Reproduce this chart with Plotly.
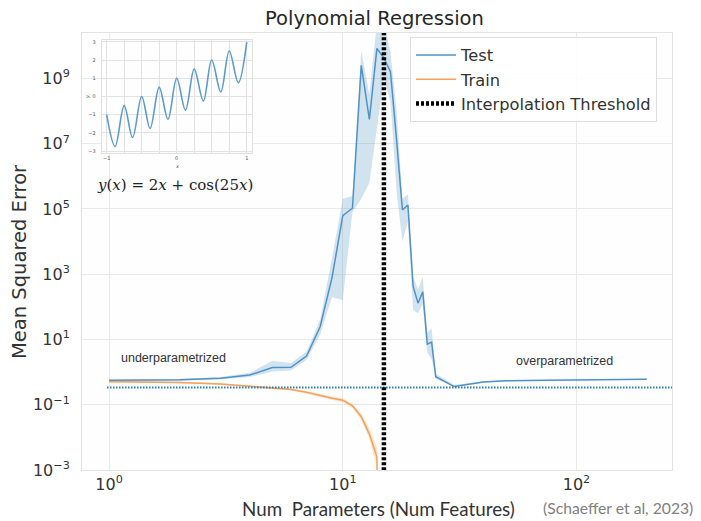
import plotly.graph_objects as go

# ---------------- data ----------------
x_test = [1, 2, 3, 4, 5, 6, 7, 8, 9, 10, 11, 12, 13, 14, 15, 16, 17, 18, 19, 20,
          21, 22, 23, 24, 25, 30, 40, 50, 75, 100, 150, 200]
test_mse = [0.56, 0.58, 0.65, 0.81, 1.38, 1.40, 3.1, 24.5, 8.0e2, 6.2e4, 1.05e5, 2.5e9,
            5.5e7, 8.3e9, 4.2e9, 1.6e9, 1.26e7, 9.3e4, 1.32e5, 4.2e2, 1.3e2, 2.9e2,
            7.2, 8.3, 0.72, 0.36, 0.50, 0.54, 0.56, 0.575, 0.59, 0.60]
test_lo = [0.50, 0.53, 0.60, 0.71, 1.05, 1.12, 2.4, 14.0, 2.0e2, 1.6e2, 8.0e4, 2.0e5,
           6.3e5, 3.0e7, 1.0e9, 2.0e8, 3.2e5, 1.0e4, 4.0e4, 80.0, 63.0, 1.2e2,
           4.0, 2.5, 0.63, 0.35, 0.48, 0.52, 0.545, 0.56, 0.575, 0.585]
test_hi = [0.58, 0.61, 0.71, 0.95, 2.24, 1.9, 4.2, 40.0, 3.2e3, 2.0e5, 2.5e5, 7.0e9,
           3.2e8, 5.0e10, 5.0e10, 6.3e9, 1.0e8, 2.0e5, 2.8e5, 8.0e2, 3.5e2, 8.0e2,
           16.0, 22.0, 0.89, 0.40, 0.52, 0.56, 0.58, 0.59, 0.605, 0.62]

x_train = [1, 2, 3, 4, 5, 6, 7, 8, 9, 10, 11, 12, 13, 14, 15]
train_mse = [0.51, 0.48, 0.43, 0.37, 0.32, 0.295, 0.24, 0.19, 0.158, 0.138, 0.093,
             0.043, 0.0126, 0.0025, 1e-20]
train_lo = [0.48, 0.455, 0.405, 0.35, 0.30, 0.275, 0.22, 0.17, 0.14, 0.12, 0.08,
            0.034, 0.009, 0.0012, 1e-21]
train_hi = [0.54, 0.505, 0.455, 0.39, 0.34, 0.315, 0.26, 0.21, 0.178, 0.158, 0.108,
            0.054, 0.018, 0.005, 1e-19]

threshold_x = 15
baseline_mse = 0.335

# inset: y(x) = 2x + cos(25x), extrema
inset_x = [-1.0, -0.88, -0.75, -0.63, -0.50, -0.38, -0.25, -0.125, 0.0, 0.125,
           0.25, 0.38, 0.50, 0.63, 0.75, 0.88, 1.0]
inset_y = [-1.0, -2.75, -0.5, -2.25, 0.0, -1.75, 0.5, -1.25, 1.0, -0.75,
           1.5, -0.25, 2.0, 0.25, 2.5, 0.75, 2.98]

y_tick_vals = [1e-3, 1e-1, 1e1, 1e3, 1e5, 1e7, 1e9]
y_tick_text = ["10<sup>−3</sup>", "10<sup>−1</sup>", "10<sup>1</sup>", "10<sup>3</sup>",
               "10<sup>5</sup>", "10<sup>7</sup>", "10<sup>9</sup>"]
x_tick_vals = [1, 10, 100]
x_tick_text = ["10<sup>0</sup>", "10<sup>1</sup>", "10<sup>2</sup>"]

inset_xtick_vals = [-1, 0, 1]
inset_xtick_text = ["−1", "0", "1"]
inset_xminor_vals = [-0.75, -0.5, -0.25, 0.25, 0.5, 0.75]
inset_ytick_vals = [-3, -2, -1, 0, 1, 2, 3]
inset_ytick_text = ["−3", "−2", "−1", "0", "1", "2", "3"]

# ---------------- layout helpers (page pixel -> paper) ----------------
OFF = 8                      # browser body margin
W, H = 701 - OFF, 521 - OFF
L, R, T, B = 82 - OFF, 29, 33 - OFF, 51
PW, PH = W - L - R, H - T - B


def px(X):
    return (X - OFF - L) / PW


def py(Y):
    return (H - B - (Y - OFF)) / PH


BLUE = "#5092c8"
ORANGE = "#f7a05c"
TXT = "#333333"

fig = go.Figure()

# Test band + line
fig.add_trace(go.Scatter(
    x=x_test + x_test[::-1], y=test_hi + test_lo[::-1], fill="toself",
    fillcolor="rgba(31,119,180,0.2)", line=dict(width=0), hoverinfo="skip",
    showlegend=False))
fig.add_trace(go.Scatter(
    x=x_test, y=test_mse, mode="lines", name="Test",
    line=dict(color=BLUE, width=1.5)))

# Train band + line
fig.add_trace(go.Scatter(
    x=x_train + x_train[::-1], y=train_hi + train_lo[::-1], fill="toself",
    fillcolor="rgba(255,127,14,0.2)", line=dict(width=0), hoverinfo="skip",
    showlegend=False))
fig.add_trace(go.Scatter(
    x=x_train, y=train_mse, mode="lines", name="Train",
    line=dict(color=ORANGE, width=1.5)))

# baseline dotted line
fig.add_trace(go.Scatter(
    x=[0.98, 1000], y=[baseline_mse, baseline_mse], mode="lines",
    line=dict(color="#2b7bb0", width=2, dash="1.5px,1.5px"),
    hoverinfo="skip", showlegend=False))

# interpolation threshold
fig.add_trace(go.Scatter(
    x=[threshold_x, threshold_x], y=[1e-5, 1e12], mode="lines",
    name="Interpolation Threshold",
    line=dict(color="black", width=4.5, dash="3px,2px")))

# inset curve
fig.add_trace(go.Scatter(
    x=inset_x, y=inset_y, mode="lines", xaxis="x2", yaxis="y2",
    line=dict(color="#5a9bd0", width=1.6, shape="spline", smoothing=1.0),
    hoverinfo="skip", showlegend=False))

grid = "#e9e9e9"
fig.update_layout(
    width=W, height=H,
    margin=dict(l=L, r=R, t=T, b=B),
    paper_bgcolor="#ffffff", plot_bgcolor="#fefefe",
    showlegend=True,
    legend=dict(x=px(410), y=py(37), xanchor="left", yanchor="top",
                itemwidth=40,
                bgcolor="rgba(255,255,255,0.85)", bordercolor="#dedede", borderwidth=1,
                font=dict(family="DejaVu Sans", size=16.3, color=TXT)),
    xaxis=dict(type="log", range=[-0.116, 2.409], tickvals=x_tick_vals,
               ticktext=x_tick_text, showgrid=True, gridcolor=grid, gridwidth=1,
               zeroline=False, showline=True, linecolor="#e3e3e3", mirror=True,
               ticks="", tickfont=dict(family="DejaVu Sans", size=16, color=TXT)),
    yaxis=dict(type="log", range=[-3, 10.39], tickvals=y_tick_vals,
               ticktext=y_tick_text, showgrid=True, gridcolor=grid, gridwidth=1,
               zeroline=False, showline=True, linecolor="#e3e3e3", mirror=True,
               ticks="", ticklabelstandoff=8,
               tickfont=dict(family="DejaVu Sans", size=16, color=TXT)),
    xaxis2=dict(domain=[px(101.7), px(251.7)], anchor="y2", range=[-1.071, 1.071],
                tickvals=inset_xtick_vals, ticktext=inset_xtick_text,
                minor=dict(tickvals=inset_xminor_vals, showgrid=True,
                           gridcolor="#e2e2e2", ticks=""),
                showgrid=True, gridcolor="#e2e2e2", zeroline=False,
                showline=True, linecolor="#e0e0e0", mirror=True, ticks="",
                tickfont=dict(family="DejaVu Sans", size=5, color="#555")),
    yaxis2=dict(domain=[py(153), py(40)], anchor="x2", range=[-3.1, 3.1],
                tickvals=inset_ytick_vals, ticktext=inset_ytick_text,
                showgrid=True, gridcolor="#e2e2e2", zeroline=False,
                showline=True, linecolor="#e0e0e0", mirror=True, ticks="",
                ticklabelstandoff=4,
                tickfont=dict(family="DejaVu Sans", size=5, color="#555")),
)

ann = [
    dict(text="Polynomial Regression", x=px(374), y=py(18.5),
         font=dict(family="DejaVu Sans", size=19.5, color="#262626")),
    dict(text="Mean Squared Error", x=px(19), y=py(262), textangle=-90,
         font=dict(family="DejaVu Sans", size=19.5, color=TXT)),
    dict(text="Num\u00a0\u00a0Parameters (Num Features)", x=px(378), y=py(508),
         font=dict(family="Lato", size=18.8, color=TXT)),
    dict(text="(Schaeffer et al, 2023)", x=px(541), y=py(508), xanchor="left",
         font=dict(family="Lato", size=15.7, color="#808080")),
    dict(text="underparametrized", x=px(173.5), y=py(358),
         font=dict(family="Liberation Sans", size=12.5, color=TXT)),
    dict(text="overparametrized", x=px(564), y=py(361),
         font=dict(family="Liberation Sans", size=12.5, color=TXT)),
    dict(text="<i>y</i>(<i>x</i>) = 2<i>x</i> + cos(25<i>x</i>)", x=px(174.5), y=py(185),
         font=dict(family="DejaVu Serif", size=15, color="#222")),
    dict(text="<i>x</i>", x=px(176.7), y=py(166),
         font=dict(family="DejaVu Sans", size=5, color="#555")),
    dict(text="<i>y</i>", x=px(88), y=py(97), textangle=-90,
         font=dict(family="DejaVu Sans", size=5, color="#555")),
]
for a in ann:
    a.setdefault("xanchor", "center")
    a.update(xref="paper", yref="paper", yanchor="middle", showarrow=False)
    fig.add_annotation(**a)

fig.write_html("out.html")
